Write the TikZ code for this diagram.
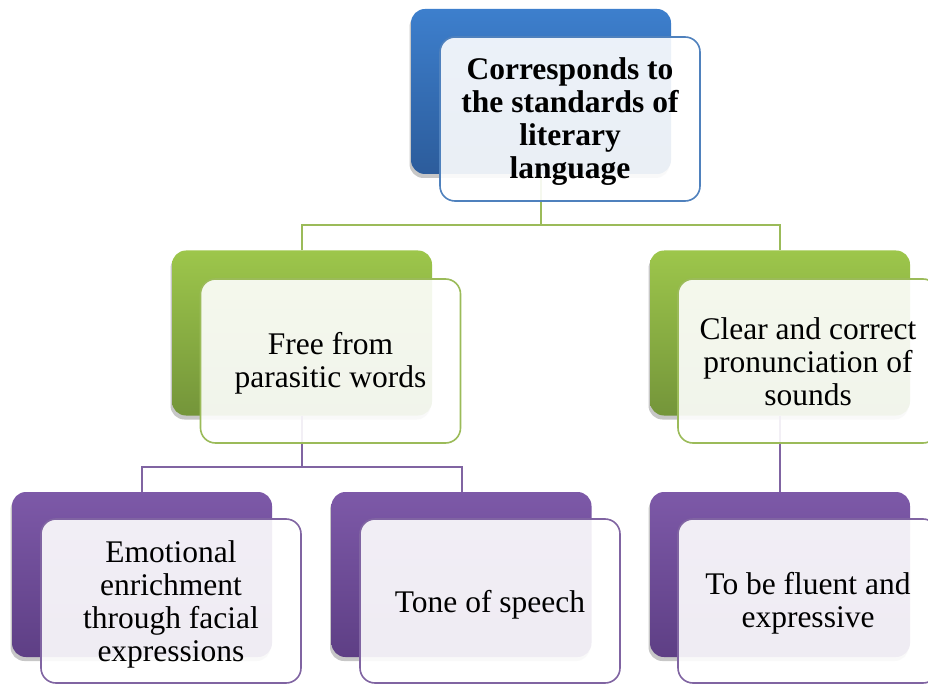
\documentclass[tikz,border=0pt]{standalone}
\usepackage{fontspec}
\setmainfont{Liberation Serif}
\usetikzlibrary{shadows}
\definecolor{bTop}{HTML}{3D7FCD}
\definecolor{bBot}{HTML}{2C5C9B}
\definecolor{bLine}{HTML}{4F81BD}
\definecolor{gTop}{HTML}{9DC64B}
\definecolor{gBot}{HTML}{74953A}
\definecolor{gLine}{HTML}{9BBB59}
\definecolor{pTop}{HTML}{7D59A8}
\definecolor{pBot}{HTML}{5E3F85}
\definecolor{pLine}{HTML}{8064A2}
\begin{document}
\begin{tikzpicture}[x=1pt,y=-1pt,
  backbox/.style={rounded corners=14pt, minimum width=260pt, minimum height=165pt,
    inner sep=0pt, draw=none,
    drop shadow={shadow xshift=-1.5pt, shadow yshift=-4pt, opacity=0.22, fill=black}},
  bluebk/.style={backbox, top color=bTop, bottom color=bBot},
  greenbk/.style={backbox, top color=gTop, bottom color=gBot},
  purplebk/.style={backbox, top color=pTop, bottom color=pBot},
  frontbox/.style={rounded corners=15pt, minimum width=260pt, minimum height=164pt,
    inner sep=0pt, fill=white, fill opacity=0.9, line width=1.6pt},
  txt/.style={inner sep=0pt, align=center, font=\fontsize{31.5}{33}\selectfont},
  gconn/.style={draw=gLine, line width=2pt},
  pconn/.style={draw=pLine, line width=2pt}
]
\useasboundingbox (0,0) rectangle (928,684);
\clip (0,0) rectangle (928,684);
\fill[white] (0,0) rectangle (928,684);

% junction coordinates
\coordinate (jA) at (541,225);
\coordinate (jB) at (302,467);

% back boxes
\node[bluebk] (topB) at (541,91.5) {};
\node[greenbk] (lB) at (302,333) {};
\node[greenbk] (rB) at (780,333) {};
\node[purplebk] (llB) at (142,574.5) {};
\node[purplebk] (lmB) at (461.5,574.5) {};
\node[purplebk] (rbB) at (780,574.5) {};

% connectors
\draw[gconn] (topB.south) -- (jA);
\draw[gconn] (lB.north) |- (jA) -| (rB.north);
\draw[pconn] (lB.south) -- (jB);
\draw[pconn] (llB.north) |- (jB) -| (lmB.north);
\draw[pconn] (rB.south) -- (rbB.north);

% front boxes
\node[frontbox, draw=bLine] (topF) at (570,119) {};
\node[frontbox, draw=gLine] (lF) at (330.5,361) {};
\node[frontbox, draw=gLine] (rF) at (808,361) {};
\node[frontbox, draw=pLine] (llF) at (171,601) {};
\node[frontbox, draw=pLine] (lmF) at (490,601) {};
\node[frontbox, draw=pLine] (rbF) at (808,601) {};

% texts
\node[txt, font=\fontsize{31.5}{33}\selectfont\bfseries] (topT) at ([yshift=-3pt]topF.center)
  {Corresponds to\\the standards of\\literary\\language};
\node[txt] (lT) at ([yshift=-2pt]lF.center) {Free from\\parasitic words};
\node[txt] (rT) at ([yshift=-1pt]rF.center) {Clear and correct\\pronunciation of\\sounds};
\node[txt] (llT) at ([yshift=-3.5pt]llF.center) {Emotional\\enrichment\\through facial\\expressions};
\node[txt] (lmT) at ([yshift=-3.5pt]lmF.center) {Tone of speech};
\node[txt] (rbT) at ([yshift=-2pt]rbF.center) {To be fluent and\\expressive};
\end{tikzpicture}
\end{document}
